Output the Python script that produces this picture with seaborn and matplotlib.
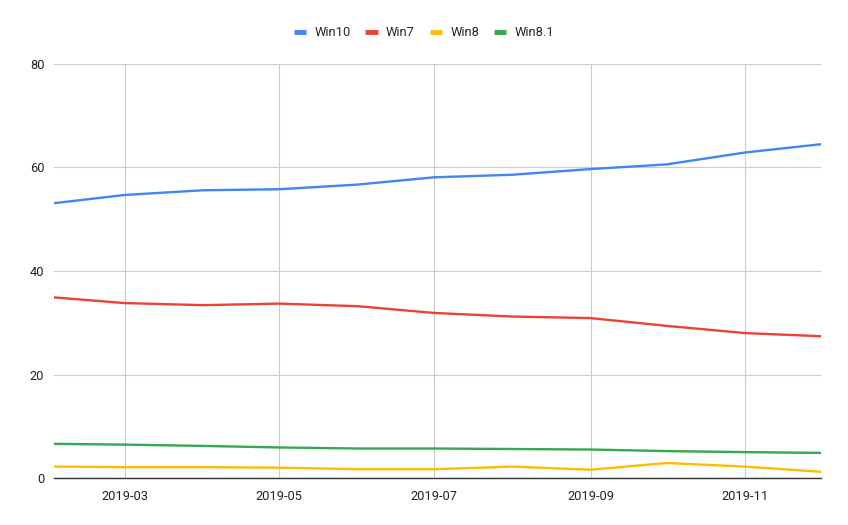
import numpy as np
import pandas as pd
import seaborn as sns
import matplotlib.pyplot as plt
import matplotlib.dates as mdates

# monthly share, Feb..Dec 2019
months = ["2019-02", "2019-03", "2019-04", "2019-05", "2019-06", "2019-07",
          "2019-08", "2019-09", "2019-10", "2019-11", "2019-12"]
win10 = [53.1, 54.7, 55.6, 55.8, 56.7, 58.1, 58.6, 59.7, 60.6, 62.9, 64.5]
win7 = [34.9, 33.8, 33.4, 33.7, 33.2, 31.9, 31.2, 30.9, 29.4, 28.0, 27.4]
win8 = [2.2, 2.1, 2.1, 2.0, 1.7, 1.7, 2.2, 1.6, 2.9, 2.2, 1.2]
win81 = [6.6, 6.45, 6.2, 5.9, 5.7, 5.7, 5.6, 5.5, 5.2, 5.0, 4.85]

series = ["Win10", "Win7", "Win8", "Win8.1"]
colors = ["#4285F4", "#EA4335", "#FBBC04", "#34A853"]

df = pd.DataFrame({"month": pd.to_datetime(months),
                   "Win10": win10, "Win7": win7, "Win8": win8, "Win8.1": win81})
long_df = df.melt(id_vars="month", var_name="os", value_name="share")

sns.set_style("white")
plt.rcParams['font.family'] = ['Roboto', 'DejaVu Sans']

fig = plt.figure(figsize=(8.48, 5.25), dpi=100)
ax = fig.add_axes([54 / 848, 47 / 525, (821 - 54) / 848, (478 - 64) / 525])

sns.lineplot(data=long_df, x="month", y="share", hue="os", hue_order=series,
             palette=colors, linewidth=1.7, ax=ax, legend=False)

ax.set_xlim(df["month"].iloc[0], df["month"].iloc[-1])
ax.set_ylim(0, 80)
ax.set_yticks([0, 20, 40, 60, 80])
ax.xaxis.set_major_locator(mdates.MonthLocator(bymonth=[3, 5, 7, 9, 11]))
ax.xaxis.set_major_formatter(mdates.DateFormatter("%Y-%m"))
ax.grid(True, color="#cccccc", linewidth=0.8)
ax.set_axisbelow(True)
for s in ["top", "right", "left"]:
    ax.spines[s].set_visible(False)
ax.spines["bottom"].set_color("#333333")
ax.spines["bottom"].set_linewidth(1)
ax.spines["bottom"].set_zorder(1)
ax.tick_params(axis="both", length=0, labelsize=9.3, labelcolor="#222222")
ax.tick_params(axis="y", pad=7)
ax.tick_params(axis="x", pad=9)
ax.set_xlabel("")
ax.set_ylabel("")

handles = [plt.Line2D([], [], color=c, linewidth=3.5, solid_capstyle="butt")
           for c in colors]
fig.legend(handles, series, loc="center", bbox_to_anchor=(0.5, 1 - 33 / 525),
           ncol=4, frameon=False, fontsize=9.3, handlelength=0.95,
           handletextpad=0.65, columnspacing=1.15)

fig.savefig("out.png", dpi=100)
